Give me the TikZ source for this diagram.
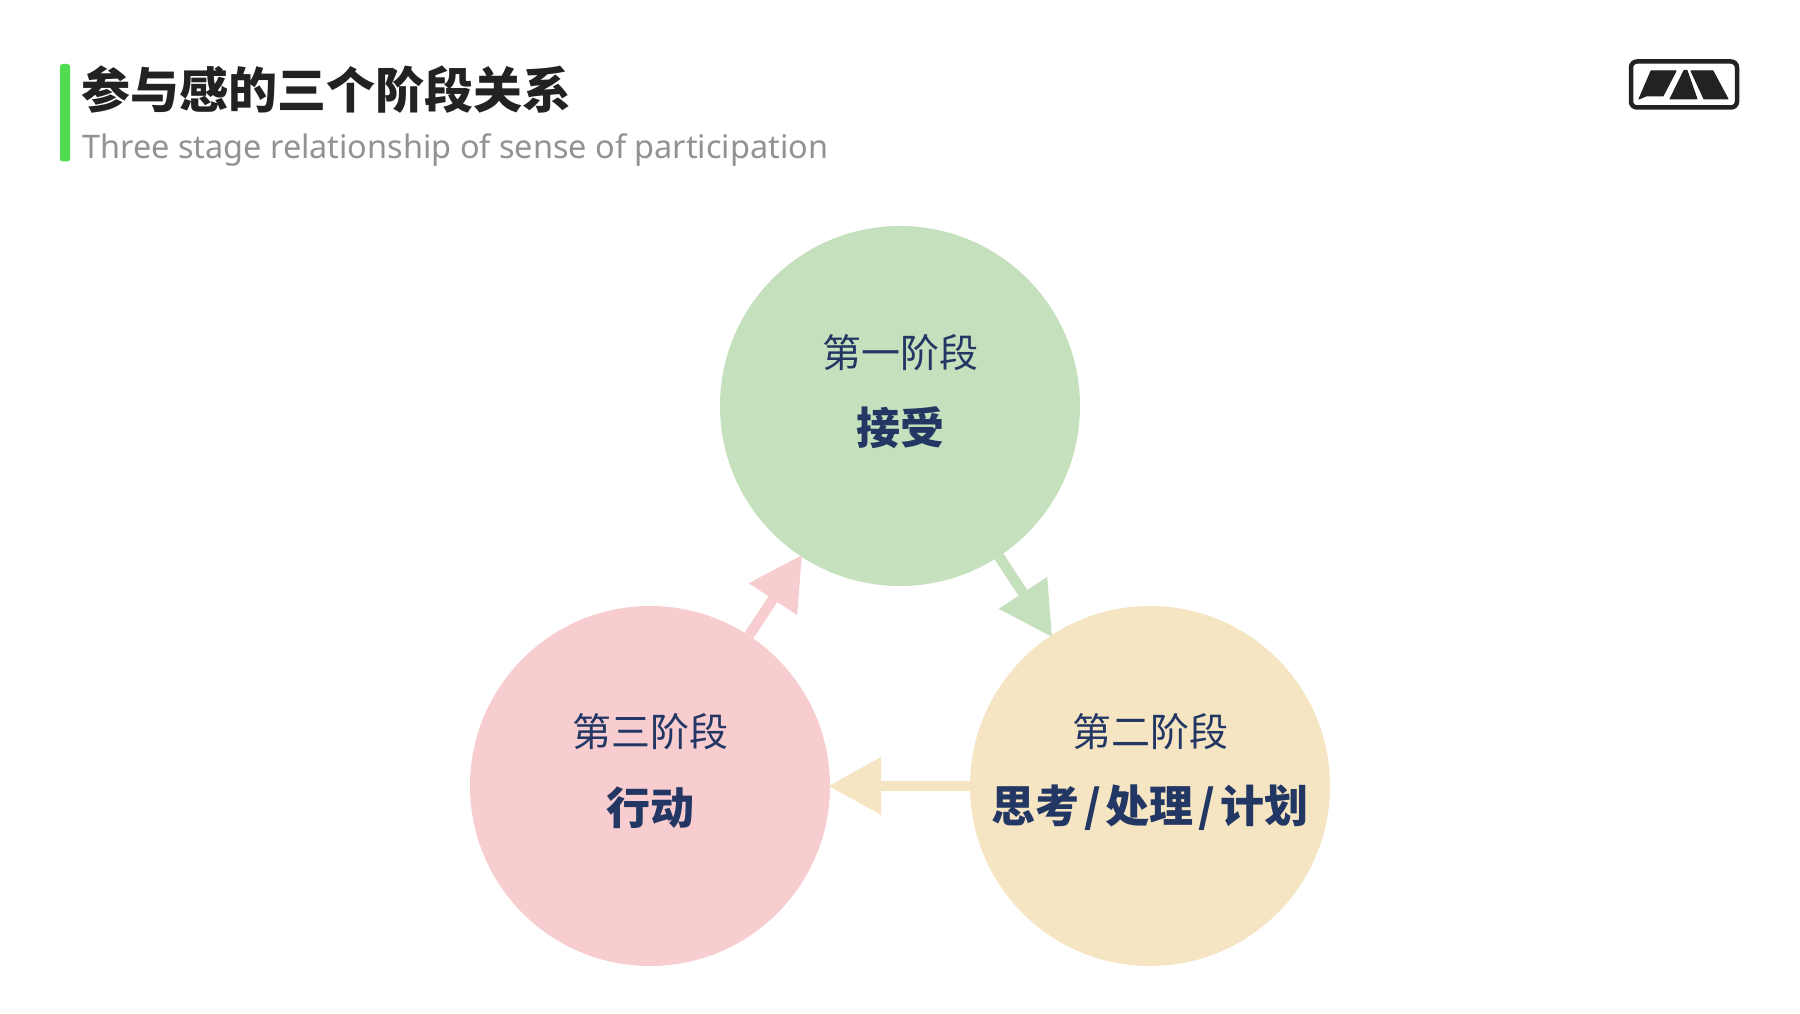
\documentclass[tikz,border=0pt]{standalone}
\usepackage{fontspec}
\usetikzlibrary{arrows.meta}
\setmainfont{Noto Sans CJK SC}
\newfontfamily\latinsub{Noto Sans}
\definecolor{cgreen}{HTML}{C5E0BC}
\definecolor{cyellow}{HTML}{F6E5C3}
\definecolor{cpink}{HTML}{F8CDD0}
\definecolor{navy}{HTML}{223763}
\definecolor{bargreen}{HTML}{4FDC4F}
\definecolor{ink}{HTML}{222222}
\definecolor{subgray}{HTML}{929292}
\newcommand{\wslash}{\hspace{5pt}/\hspace{5pt}}
\tikzset{
  x=1pt,y=-1pt,
  stage/.style={circle,minimum size=360pt,inner sep=0pt,fill=#1},
  lab/.style={anchor=center,inner sep=0pt,text=navy,font=\fontsize{39}{39}\selectfont},
  labb/.style={anchor=center,inner sep=0pt,text=navy,font=\fontsize{44}{44}\selectfont\bfseries},
  flow/.style={line width=10.5pt,draw=#1,shorten >=-2pt,-{Triangle[length=53pt,width=55pt,fill=#1,color=#1]}},
  logofill/.style={fill=ink,draw=ink,line width=1pt,line join=round}
}
\begin{document}
\begin{tikzpicture}
\useasboundingbox[fill=white] (0,0) rectangle (1800,1014);
% header
\fill[bargreen,rounded corners=2.5pt] (60,64) rectangle (70,161.5);
\node[anchor=west,inner sep=0pt,text=ink,font=\fontsize{49}{49}\selectfont\bfseries] (title) at (81,90) {参与感的三个阶段关系};
\node[anchor=west,inner sep=0pt,text=subgray,font=\fontsize{32.45}{32.45}\selectfont\latinsub] (subtitle) at (82,150) {Three stage relationship of sense of participation};
% logo
\draw[ink,line width=4.5pt,rounded corners=6pt] (1631,61.5) rectangle (1737,107.5);
\filldraw[logofill] (1651,71) -- (1676,71) -- (1663,96) -- (1646,96) -- (1639,99) -- cycle;
\filldraw[logofill] (1684,70.5) -- (1687,70.5) -- (1697,99) -- (1670,99) -- cycle;
\filldraw[logofill] (1691,71) -- (1713,71) -- (1728,99) -- (1704,99) -- cycle;
% stages
\node[stage=cgreen] (one) at (900,406) {};
\node[stage=cyellow] (two) at (1150,786) {};
\node[stage=cpink] (three) at (650,786) {};
\draw[flow=cgreen] (one) -- (two);
\draw[flow=cyellow] (two) -- (three);
\draw[flow=cpink] (three) -- (one);
\node[lab] (l1) at (900,353) {第一阶段};
\node[labb] (b1) at (900,428) {接受};
\node[lab] (l2) at (1150,732) {第二阶段};
\node[labb] (b2) at (1150,808) {思考\wslash 处理\wslash 计划};
\node[lab] (l3) at (650,732) {第三阶段};
\node[labb] (b3) at (650,808) {行动};
\end{tikzpicture}
\end{document}
